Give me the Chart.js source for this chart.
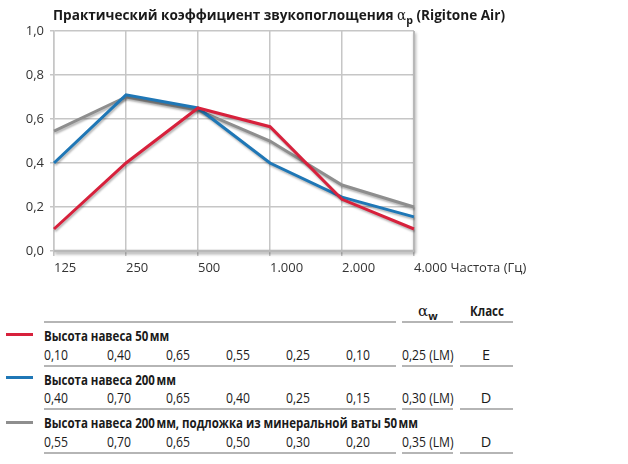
<!DOCTYPE html>
<html><head><meta charset="utf-8">
<script src="https://cdn.jsdelivr.net/npm/chart.js@4/dist/chart.umd.min.js"></script>
<style>
html,body{margin:0;padding:0;background:#fff;}
body{width:628px;height:464px;position:relative;overflow:hidden;font-family:"Open Sans",sans-serif;color:#1a1a1a;}
#wrap{position:absolute;left:0;top:0;width:628px;height:290px;}
.t{position:absolute;white-space:nowrap;font-size:14px;line-height:16px;transform-origin:0 50%;}
.v{font-size:14.5px;}
.b{font-weight:bold;}
.rule{position:absolute;height:2px;background:#b5b5b5;}
.leg{position:absolute;left:6px;width:27px;height:3px;}
#title{left:53px;top:7px;font-size:14px;font-weight:bold;}
.sym{font-family:"DejaVu Serif",serif;font-weight:normal;font-size:14px;}
sub{font-size:11px;vertical-align:-4px;line-height:0;font-weight:bold;}
</style></head>
<body>
<div id="wrap"><canvas id="c" width="628" height="290"></canvas></div>
<div id="title" class="t">Практический коэффициент звукопоглощения <span class="sym">α</span><sub>p</sub> (Rigitone Air)</div>
<div id="table"></div>
<script>
const categories = ["125","250","500","1.000","2.000","4.000"];
const axisTitle = "Частота (Гц)";
const yTicks = [0,0.2,0.4,0.6,0.8,1.0];
const seriesNames = ["Высота навеса 50\u202Fмм","Высота навеса 200\u202Fмм","Высота навеса 200\u202Fмм, подложка из минеральной ваты 50\u202Fмм"];
const red50 = [0.10,0.40,0.65,0.565,0.235,0.10];
const blue200 = [0.40,0.71,0.65,0.40,0.245,0.155];
const gray200wool = [0.545,0.70,0.64,0.50,0.30,0.20];
const tableRed = ["0,10","0,40","0,65","0,55","0,25","0,10"];
const tableBlue = ["0,40","0,70","0,65","0,40","0,25","0,15"];
const tableGray = ["0,55","0,70","0,65","0,50","0,30","0,20"];
const alphaW = ["0,25 (LM)","0,30 (LM)","0,35 (LM)"];
const classes = ["E","D","D"];
const colors = ["#d7213c","#1f77b6","#8e8e8e"];

const shadowPlugin = {
  id:'shadow',
  beforeDatasetDraw(chart){const c=chart.ctx;c.save();c.shadowColor='rgba(0,0,0,0.28)';c.shadowBlur=2;c.shadowOffsetX=1;c.shadowOffsetY=2;},
  afterDatasetDraw(chart){chart.ctx.restore();},
  beforeDatasetsDraw(chart){
    const c=chart.ctx,a=chart.chartArea;
    c.save();
    c.shadowColor='rgba(0,0,0,0.35)';c.shadowBlur=3;c.shadowOffsetX=1;c.shadowOffsetY=2;
    c.strokeStyle='#b8b8b8';c.lineWidth=2;
    c.beginPath();c.moveTo(a.right,a.top);c.lineTo(a.right,a.bottom);c.stroke();
    c.lineWidth=2.5;
    c.beginPath();c.moveTo(a.left,a.bottom);c.lineTo(a.right,a.bottom);c.stroke();
    c.restore();
  }
};

new Chart(document.getElementById('c'),{
  type:'line',
  data:{labels:categories,datasets:[red50,blue200,gray200wool].map((d,i)=>({label:seriesNames[i],data:d,borderColor:colors[i],borderWidth:3,pointRadius:0,tension:0,fill:false}))},
  options:{
    responsive:false,animation:false,
    layout:{padding:{left:0,right:214,top:31,bottom:0}},
    plugins:{legend:{display:false},tooltip:{enabled:false}},
    scales:{
      x:{type:'category',offset:false,
        grid:{color:'#c6c6c6',lineWidth:1.5,tickLength:5,drawTicks:true},
        border:{display:false},
        ticks:{align:'start',color:'#333',font:{family:'Open Sans',size:13},padding:4,maxRotation:0,autoSkip:false,
          callback:(v,i)=> i===categories.length-1 ? categories[i]+' '+axisTitle : categories[i]},
        afterFit:(s)=>{s.height=39;}
      },
      y:{min:0,max:1,
        afterBuildTicks:(s)=>{s.ticks=yTicks.map(v=>({value:v}));},
        grid:{color:'#c6c6c6',lineWidth:1.5,tickLength:4},
        border:{display:true,color:'#c6c6c6',width:1.5},
        ticks:{color:'#333',font:{family:'Open Sans',size:13},padding:6,callback:v=>v.toFixed(1).replace('.',',')},
        afterFit:(s)=>{s.width=54;}
      }
    }
  },
  plugins:[shadowPlugin]
});

// table
const T=document.getElementById('table');
function add(cls,txt,x,y,extra){const d=document.createElement('div');d.className='t '+cls;d.innerHTML=txt;d.style.left=x+'px';d.style.top=(y-8)+'px';if(extra)Object.assign(d.style,extra);T.appendChild(d);return d;}
function rules(y){[[44,396],[402,453],[460,513]].forEach(([a,b])=>{const r=document.createElement('div');r.className='rule';r.style.left=a+'px';r.style.width=(b-a)+'px';r.style.top=(y-1)+'px';T.appendChild(r);});}
function fitScale(el,target){const w=el.getBoundingClientRect().width;return target/w;}
add('','<span class="sym" style="font-size:15px">α</span><sub>w</sub>',418,311);
const klass=add('b','Класс',470,311);
rules(322);
const rows=[tableRed,tableBlue,tableGray];
const colX=[44,107,166,226,286,346];
const titleY=[336,380,423], valY=[355,398,442], ruleY=[366,409,453], legY=[334,377,422];
const titleEls=[], valEls=[];
rows.forEach((r,i)=>{
  const l=document.createElement('div');l.className='leg';l.style.top=(legY[i]-1)+'px';l.style.background=colors[i];T.appendChild(l);
  titleEls.push(add('b',seriesNames[i],44,titleY[i]));
  r.forEach((v,j)=>valEls.push(add('v',v,colX[j],valY[i])));
  valEls.push(add('v',alphaW[i],402,valY[i]));
  add('v',classes[i],480,valY[i],{width:'12px',textAlign:'center'});
  rules(ruleY[i]);
});
const ks=fitScale(titleEls[2],374);
titleEls.forEach(e=>e.style.transform='scaleX('+ks+')');
klass.style.transform='scaleX('+ks+')';
const vs=Math.min(1,fitScale(valEls[0],24));
valEls.forEach(e=>e.style.transform='scaleX('+vs+')');
const tt=document.getElementById('title');
tt.style.transform='scaleX('+fitScale(tt,452)+')';
</script>
</body></html>
